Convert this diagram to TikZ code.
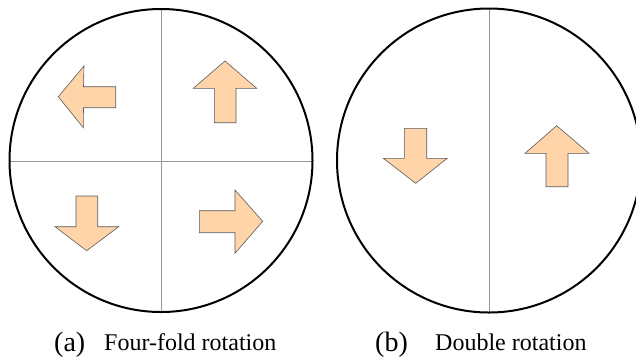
\documentclass[tikz,border=0pt]{standalone}
\usepackage{fontspec}
\setmainfont{Liberation Serif}
\newfontfamily\capserif{Liberation Serif}
\begin{document}
\begin{tikzpicture}[x=1pt,y=-1pt,
  rim/.style={line width=2pt,draw=black},
  divider/.style={line width=1pt,draw={rgb,255:red,150;green,150;blue,150}},
  arrowshape/.style={fill={rgb,255:red,255;green,212;blue,168},draw={rgb,255:red,90;green,90;blue,90},line width=0.6pt,line join=miter},
  lab/.style={inner sep=0pt,anchor=base west,font=\capserif\fontsize{28}{30}\selectfont},
  captext/.style={inner sep=0pt,anchor=base west,font=\capserif\fontsize{24}{26}\selectfont}]
\useasboundingbox (0,0) rectangle (636,360);
\clip (0,0) rectangle (636,360);
% left circle
\draw[divider] (10,161) -- (312,161);
\draw[divider] (161,9) -- (161,312);
\draw[rim] (161,160.5) circle[radius=151.5];
% arrows (a)
\draw[arrowshape] (58.3,96.7) -- (84,66) -- (83.5,86.7) -- (115.7,86.7) -- (115.7,107.7) -- (83.5,107.7) -- (83.3,127.7) -- cycle;
\draw[arrowshape] (225,61) -- (256.7,88.3) -- (236,88.3) -- (236,122.7) -- (214.3,122.7) -- (214.3,88.3) -- (193.3,88.3) -- cycle;
\draw[arrowshape] (86.7,250.7) -- (118.7,226.7) -- (97.7,226.7) -- (97.7,196) -- (76,196) -- (76,226.7) -- (55,226.7) -- cycle;
\draw[arrowshape] (262.7,221.3) -- (235,190) -- (235,210.7) -- (199.3,210.7) -- (199.3,232.7) -- (235,232.7) -- (235,253.3) -- cycle;
% right circle
\draw[divider] (489,9) -- (489,312);
\draw[rim] (489,160.5) circle[radius=152];
\draw[arrowshape] (415.7,183.3) -- (447.3,158.3) -- (426.7,158.3) -- (426.7,128.3) -- (404.3,128.3) -- (404.3,158.3) -- (383.3,158.3) -- cycle;
\draw[arrowshape] (556.7,125.7) -- (589,153.3) -- (568,153.3) -- (568,186.7) -- (546,186.7) -- (546,153.3) -- (525,153.3) -- cycle;
% captions
\node[lab] (la) at (54,351) {(a)};
\node[captext] (ca) at (104,350) {Four-fold rotation};
\node[lab] (lb) at (375,351) {(b)};
\node[captext] (cb) at (435,350) {Double rotation};
\end{tikzpicture}
\end{document}
